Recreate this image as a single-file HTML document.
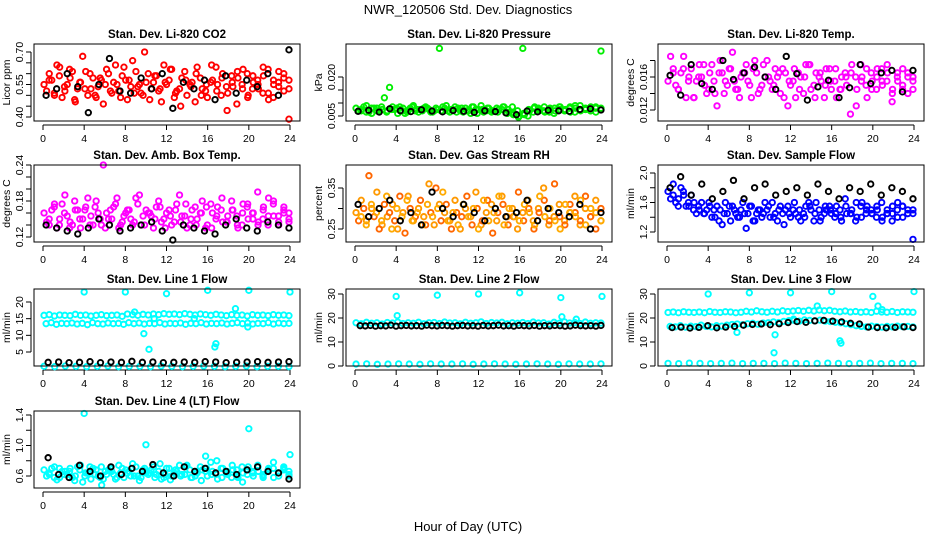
<!DOCTYPE html>
<html><head><meta charset="utf-8"><style>
html,body{margin:0;padding:0;background:#fff;}
svg text{font-family:"Liberation Sans",Arial,sans-serif;}
</style></head><body>
<svg id="chart" width="936" height="540" viewBox="0 0 936 540" xmlns="http://www.w3.org/2000/svg">
<text x="468" y="14" text-anchor="middle" font-size="13">NWR_120506  Std. Dev. Diagnostics</text>
<text x="468" y="531" text-anchor="middle" font-size="13">Hour of Day (UTC)</text>
</svg>
<script>
// ---- data ----
const xTicks = [0,4,8,12,16,20,24];
const p1Red1 = [0.55,0.60,0.50,0.63,0.52,0.58,0.47,0.56,0.61,0.53,0.49,0.57,0.62,0.51,0.55,0.59,0.48,0.66,0.54,0.50,0.60,0.56,0.52,0.64,0.57,0.49,0.53,0.61,0.55,0.47,0.58,0.52,0.56,0.63,0.50,0.54,0.59,0.46,0.55,0.60,0.53,0.57,0.51,0.62,0.49,0.56,0.58,0.53];
const p1Red2 = [0.52,0.57,0.64,0.49,0.55,0.61,0.53,0.68,0.50,0.58,0.54,0.46,0.60,0.56,0.52,0.63,0.57,0.51,0.55,0.70,0.48,0.59,0.53,0.56,0.62,0.51,0.45,0.57,0.54,0.60,0.50,0.55,0.64,0.52,0.58,0.43,0.56,0.61,0.53,0.49,0.59,0.55,0.63,0.51,0.57,0.54,0.60,0.39];
const p1Red3 = [0.57,0.51,0.59,0.54,0.62,0.48,0.56,0.53,0.60,0.50,0.58,0.55,0.52,0.64,0.49,0.57,0.54,0.61,0.51,0.56,0.53,0.59,0.47,0.55,0.62,0.52,0.58,0.50,0.56,0.63,0.53,0.49,0.57,0.55,0.60,0.51,0.54,0.58,0.62,0.50,0.56,0.53,0.59,0.48,0.55,0.61,0.52,0.57];
const p1Black = [0.50,0.53,0.60,0.54,0.42,0.55,0.67,0.52,0.51,0.58,0.53,0.60,0.44,0.56,0.53,0.57,0.48,0.59,0.51,0.57,0.54,0.60,0.50,0.71];
const p2Green1 = [0.008,0.007,0.009,0.006,0.008,0.0075,0.007,0.0085,0.006,0.008,0.007,0.009,0.0065,0.008,0.0075,0.007,0.031,0.008,0.0065,0.0085,0.007,0.008,0.006,0.0075,0.009,0.007,0.0065,0.008,0.0075,0.006,0.0085,0.007,0.031,0.005,0.0065,0.008,0.007,0.0075,0.006,0.0085,0.007,0.008,0.0065,0.009,0.0075,0.007,0.008,0.030];
const p2Green2 = [0.007,0.0085,0.0065,0.008,0.007,0.012,0.016,0.0075,0.0085,0.006,0.008,0.007,0.0075,0.0085,0.0065,0.008,0.007,0.009,0.0075,0.0065,0.008,0.007,0.0085,0.006,0.0075,0.008,0.007,0.0065,0.0085,0.0075,0.0055,0.0045,0.006,0.0075,0.008,0.007,0.0085,0.0065,0.008,0.0075,0.007,0.0085,0.009,0.0075,0.008,0.007,0.0085,0.0075];
const p2Green3 = [0.0075,0.0065,0.008,0.007,0.0085,0.0065,0.0075,0.008,0.007,0.0065,0.0085,0.0075,0.007,0.008,0.0065,0.0075,0.0085,0.007,0.0075,0.008,0.0065,0.007,0.0085,0.0075,0.0065,0.008,0.007,0.0075,0.0085,0.0065,0.006,0.005,0.0055,0.007,0.0085,0.0075,0.0065,0.008,0.007,0.0085,0.0075,0.0065,0.008,0.007,0.0075,0.0085,0.0065,0.008];
const p2Black = [0.0068,0.0072,0.0065,0.0078,0.007,0.0067,0.0074,0.0069,0.0066,0.0071,0.0068,0.0064,0.007,0.0067,0.0062,0.0055,0.0069,0.0066,0.0072,0.007,0.0068,0.0075,0.0078,0.0073];
const p3Mag1 = [0.0155,0.017,0.0145,0.0185,0.016,0.0135,0.0175,0.015,0.0165,0.014,0.018,0.0155,0.017,0.0145,0.016,0.0175,0.0135,0.0165,0.015,0.018,0.0145,0.016,0.017,0.0125,0.0155,0.0165,0.014,0.0175,0.015,0.016,0.0135,0.017,0.0155,0.0145,0.0165,0.0115,0.016,0.0175,0.015,0.0165,0.0145,0.017,0.0155,0.013,0.016,0.0145,0.0165,0.0155];
const p3Mag2 = [0.0185,0.015,0.0165,0.0135,0.017,0.0155,0.016,0.014,0.0175,0.0125,0.0165,0.015,0.019,0.0145,0.0165,0.0155,0.017,0.014,0.0175,0.016,0.015,0.0165,0.0135,0.0155,0.017,0.0145,0.016,0.0175,0.0135,0.0165,0.015,0.0155,0.017,0.0145,0.016,0.0165,0.0125,0.0155,0.017,0.0145,0.016,0.0155,0.0175,0.014,0.0165,0.015,0.016,0.0145];
const p3Mag3 = [0.0165,0.0145,0.017,0.0155,0.0135,0.016,0.0175,0.0145,0.0155,0.0165,0.014,0.017,0.0155,0.0135,0.0165,0.015,0.018,0.0145,0.016,0.0155,0.017,0.014,0.0165,0.015,0.0135,0.016,0.0175,0.0145,0.0165,0.0155,0.017,0.0145,0.0135,0.016,0.015,0.0175,0.0145,0.016,0.0135,0.0155,0.017,0.015,0.0165,0.0145,0.0155,0.017,0.014,0.016];
const p3Black = [0.0162,0.0138,0.0175,0.0152,0.0145,0.018,0.0157,0.0165,0.0172,0.016,0.0145,0.0185,0.0164,0.0132,0.0148,0.0156,0.0135,0.0147,0.0175,0.0152,0.0165,0.0168,0.0142,0.0168];
const p4Mag1 = [0.16,0.14,0.175,0.15,0.19,0.145,0.165,0.135,0.17,0.155,0.18,0.14,0.16,0.15,0.185,0.145,0.165,0.14,0.175,0.155,0.16,0.135,0.18,0.15,0.165,0.145,0.19,0.155,0.14,0.17,0.16,0.135,0.175,0.15,0.165,0.145,0.18,0.155,0.14,0.17,0.16,0.195,0.15,0.14,0.175,0.155,0.165,0.145];
const p4Mag2 = [0.145,0.165,0.135,0.175,0.155,0.14,0.165,0.15,0.185,0.14,0.16,0.24,0.15,0.17,0.135,0.155,0.165,0.145,0.19,0.14,0.16,0.15,0.17,0.135,0.155,0.165,0.145,0.175,0.15,0.14,0.16,0.17,0.135,0.155,0.185,0.145,0.165,0.14,0.16,0.175,0.15,0.14,0.165,0.155,0.18,0.145,0.16,0.15];
const p4Mag3 = [0.15,0.17,0.14,0.16,0.135,0.18,0.15,0.165,0.14,0.17,0.15,0.135,0.165,0.175,0.14,0.16,0.15,0.185,0.14,0.165,0.155,0.17,0.145,0.16,0.14,0.175,0.155,0.135,0.165,0.15,0.18,0.14,0.16,0.17,0.145,0.155,0.165,0.135,0.175,0.15,0.16,0.145,0.17,0.185,0.155,0.14,0.17,0.16];
const p4Black = [0.14,0.135,0.13,0.125,0.135,0.15,0.14,0.13,0.135,0.14,0.145,0.13,0.115,0.14,0.135,0.13,0.125,0.14,0.15,0.135,0.13,0.145,0.14,0.135];
const p5Or1 = [0.29,0.32,0.27,0.30,0.34,0.26,0.28,0.31,0.25,0.29,0.33,0.27,0.30,0.28,0.36,0.26,0.31,0.29,0.27,0.32,0.25,0.30,0.28,0.34,0.26,0.29,0.31,0.27,0.33,0.28,0.30,0.25,0.29,0.32,0.27,0.30,0.35,0.26,0.28,0.31,0.27,0.29,0.33,0.26,0.30,0.28,0.32,0.27];
const p5Or2 = [0.27,0.30,0.38,0.28,0.25,0.31,0.29,0.27,0.33,0.24,0.30,0.28,0.32,0.26,0.29,0.35,0.27,0.31,0.25,0.29,0.28,0.33,0.26,0.30,0.27,0.32,0.24,0.29,0.31,0.26,0.28,0.34,0.27,0.30,0.25,0.29,0.32,0.27,0.36,0.28,0.26,0.31,0.29,0.27,0.33,0.28,0.25,0.30];
const p5Or3 = [0.28,0.26,0.31,0.29,0.27,0.33,0.25,0.30,0.28,0.32,0.27,0.29,0.26,0.31,0.28,0.30,0.34,0.27,0.29,0.26,0.31,0.28,0.30,0.25,0.32,0.27,0.29,0.33,0.26,0.30,0.28,0.27,0.31,0.29,0.26,0.33,0.28,0.30,0.27,0.25,0.31,0.29,0.28,0.32,0.26,0.30,0.29,0.27];
const p5Black = [0.31,0.28,0.30,0.32,0.27,0.29,0.26,0.34,0.30,0.28,0.31,0.29,0.27,0.30,0.28,0.29,0.32,0.27,0.30,0.29,0.28,0.31,0.25,0.29];
const p6Blue1 = [1.75,1.85,1.65,1.70,1.55,1.60,1.50,1.45,1.55,1.40,1.50,1.60,1.35,1.45,1.50,1.25,1.55,1.45,1.40,1.50,1.60,1.35,1.45,1.55,1.50,1.40,1.45,1.60,1.35,1.50,1.45,1.55,1.40,1.50,1.65,1.45,1.35,1.55,1.45,1.50,1.40,1.60,1.45,1.35,1.50,1.55,1.45,1.50];
const p6Blue2 = [1.65,1.60,1.80,1.55,1.70,1.45,1.60,1.50,1.40,1.55,1.30,1.45,1.55,1.40,1.60,1.45,1.35,1.50,1.45,1.55,1.40,1.50,1.30,1.45,1.60,1.50,1.40,1.55,1.45,1.35,1.55,1.50,1.45,1.40,1.55,1.45,1.60,1.40,1.50,1.45,1.55,1.35,1.50,1.45,1.40,1.55,1.45,1.10];
const p6Blue3 = [1.70,1.55,1.75,1.60,1.50,1.55,1.45,1.60,1.50,1.35,1.45,1.55,1.50,1.40,1.45,1.55,1.35,1.50,1.60,1.40,1.45,1.55,1.50,1.40,1.45,1.35,1.55,1.50,1.60,1.40,1.50,1.45,1.55,1.35,1.45,1.50,1.40,1.60,1.55,1.45,1.50,1.40,1.45,1.55,1.60,1.40,1.50,1.45];
const p6Black = [1.80,1.95,1.70,1.85,1.65,1.75,1.90,1.65,1.80,1.85,1.70,1.75,1.80,1.70,1.85,1.75,1.65,1.80,1.75,1.85,1.70,1.80,1.75,1.65];
const p7CyanHi = [16,16.2,15.8,16.1,16,15.9,16.3,16,16.1,15.8,16,16.2,15.9,16,16.1,15.7,16.4,16.2,16,16.3,16.1,16.4,16.2,16.5,16.3,16.4,16.2,16.5,16.3,16.1,16.4,16.2,16.0,16.3,16.1,15.9,16.2,16.0,16.1,15.8,16.2,16.0,16.1,15.9,16.2,16.0,16.1,15.9];
const p7CyanLo = [13.5,13.8,13.3,13.6,13.5,13.7,13.4,13.6,13.2,13.8,13.5,13.4,13.7,13.5,13.6,13.3,13.8,13.5,13.7,13.4,13.6,13.5,13.8,13.4,13.6,13.5,13.7,13.3,13.6,13.5,13.8,13.4,13.6,13.5,13.7,13.4,13.6,13.8,13.5,13.7,13.4,13.6,13.5,13.8,13.4,13.7,13.5,13.6];
const p7CyanZero = [0.7,0.6,0.8,0.7,0.6,0.7,0.8,0.6,0.7,0.7,0.6,0.8,0.7,0.6,0.7,0.8,0.7,0.6,0.7,0.8,0.6,0.7,0.7,0.6];
const p7Black = [1.9,2.0,1.8,1.9,2.1,1.8,2.0,1.9,2.2,1.9,2.0,1.8,1.9,2.0,1.9,2.1,2.0,1.8,1.9,2.0,2.1,1.9,2.0,2.1];
const p7OutHours = [4,8,12,16,20,24,9.8,10.3,10.8,14.7,18.7,8.9,16.7,16.8,19.9];
const p7OutVals = [23,23,22.5,23.5,23.5,23,10.5,5.8,15,15,18,17,6.5,7.5,12.5];
const p8CyanHi = [18,17.6,18.2,17.8,18,17.5,18.1,17.9,18.3,17.7,18,17.8,18.2,17.6,18,18.1,17.7,18.3,17.9,18,17.6,18.2,17.8,18,18.4,17.7,18.1,17.9,18.2,17.6,18,17.8,18.1,17.7,18.3,17.9,18,17.5,18.2,17.8,18.4,17.9,18.1,17.7,18.3,17.8,18,17.9];
const p8CyanZero = [0.8,0.9,0.7,0.8,0.9,0.8,0.7,0.9,0.8,0.8,0.9,0.7,0.8,0.9,0.8,0.7,0.8,0.9,0.8,0.7,0.9,0.8,0.8,0.9];
const p8Black = [16.8,16.7,16.9,16.6,16.8,16.7,17.0,16.6,16.8,16.9,16.7,16.8,16.6,17.0,16.8,16.7,16.9,16.8,16.6,16.8,16.9,16.7,16.8,16.6,16.9,16.7,16.8,17.0,16.7,16.8,16.6,16.9,16.8,16.7,16.9,16.6,16.8,16.7,16.9,16.8,16.6,16.7,17.0,16.8,16.7,16.8,16.6,16.9];
const p8OutHours = [4,8,12,16,20,24,4.1,20.1,21.5];
const p8OutVals = [29,29.5,30,30.5,28.5,29,21,20.5,19.5];
const p9CyanHi = [22.3,22.5,22.2,22.6,22.4,22.3,22.5,22.2,22.7,22.4,22.3,22.6,22.5,22.2,22.4,22.8,22.5,23,22.6,22.4,22.8,22.5,23,22.7,22.9,23.1,22.8,23.2,22.9,23.3,23,23.2,22.8,22.6,22.9,22.5,22.7,22.4,22.6,22.3,22.8,22.5,22.4,22.7,22.3,22.6,22.5,22.4];
const p9CyanMid = [16.5,16.3,16.8,16.2,16.6,16.4,17.0,16.5,16.3,16.8,16.6,17.0,17.3,17.5,17.2,17.6,17.8,17.4,17.9,18.0,18.4,18.1,18.6,18.9,19.0,18.7,19.2,19.0,18.8,19.1,18.7,18.5,18.2,18.0,17.6,17.2,16.8,16.5,16.3,16.6,16.4,16.2,16.5,16.3,16.6,16.4,16.5,16.3];
const p9CyanZero = [1.1,1.0,1.2,1.1,1.0,1.1,1.2,1.0,1.1,1.1,1.0,1.2,1.1,1.0,1.1,1.2,1.1,1.0,1.1,1.2,1.0,1.1,1.1,1.0];
const p9Black = [16.0,16.2,15.8,16.1,16.8,15.9,16.2,16.5,17.0,17.3,17.5,17.2,17.6,18.1,18.5,18.2,18.8,19.0,18.7,18.4,17.8,17.5,16.2,16.0,15.9,16.1,16.3,16.0];
const p9OutHours = [4,8,12,16,20,24,6.8,10.4,10.5,12.3,14.6,16.9,16.8,20.5,20.9];
const p9OutVals = [30,30.5,30.5,31,29,31,14,5.5,13,19.5,25,9.5,10.5,25,23.5];
const p10Cyan1 = [0.68,0.62,0.72,0.58,0.66,0.70,0.60,0.74,0.64,0.56,0.68,0.72,0.62,0.66,0.58,0.70,0.64,0.76,0.60,0.68,0.62,0.72,0.66,0.58,0.70,0.64,0.74,0.62,0.68,0.60,0.72,0.66,0.78,0.62,0.70,0.64,0.58,0.68,0.72,0.62,0.66,0.74,0.60,0.68,0.70,0.64,0.72,0.66];
const p10Cyan2 = [0.60,0.70,0.55,0.66,0.62,0.58,0.72,0.52,0.64,0.70,0.60,0.56,0.68,0.62,0.74,0.58,0.66,0.60,0.54,0.70,0.64,0.58,0.76,0.62,0.55,0.68,0.60,0.72,0.58,0.66,0.54,0.70,0.62,0.80,0.58,0.66,0.74,0.60,0.52,0.68,0.64,0.72,0.58,0.66,0.78,0.60,0.70,0.62];
const p10Cyan3 = [0.64,0.58,0.70,0.62,0.66,0.54,0.68,0.60,0.72,0.62,0.58,0.66,0.70,0.56,0.64,0.68,0.60,0.72,0.58,0.64,0.68,0.62,0.56,0.70,0.60,0.66,0.62,0.74,0.58,0.64,0.68,0.60,0.66,0.56,0.70,0.62,0.68,0.58,0.64,0.72,0.60,0.66,0.62,0.70,0.58,0.64,0.68,0.60];
const p10Black = [0.84,0.62,0.58,0.74,0.66,0.60,0.72,0.62,0.70,0.66,0.75,0.64,0.60,0.72,0.66,0.70,0.64,0.66,0.62,0.68,0.72,0.66,0.64,0.56];
const p10OutHours = [4,10,20,24,5.7,15.8];
const p10OutVals = [1.42,1.01,1.22,0.88,0.48,0.86];

// ---- layout ----
const svg = document.getElementById('chart');
const NS = 'http://www.w3.org/2000/svg';
const colLeft = [34, 346, 658];
const rowTop = [44, 165, 289, 411];
const boxW = 266, boxH = 77;

function mk(tag, attrs, parent){
  const e = document.createElementNS(NS, tag);
  for (const k in attrs) e.setAttribute(k, attrs[k]);
  (parent || svg).appendChild(e);
  return e;
}
function spread(n, start){ const h=[]; for(let i=0;i<n;i++) h.push(start + i*(23.9-start)/(n-1)); return h; }

const panels = [
 {name:'co2', title:'Stan. Dev. Li-820 CO2', ylab:'Licor ppm', c:0,r:0, ref:[0.40,117,0.70,52], ticks:[0.40,0.45,0.50,0.55,0.60,0.65,0.70], labels:['0.40','','','0.55','','','0.70'],
  series:[[p1Red1,'#ff0000',null,0.1],[p1Red2,'#ff0000',null,0.35],[p1Red3,'#ff0000',null,0.6],[p1Black,'#000000',null,0.3]]},
 {name:'pressure', title:'Stan. Dev. Li-820 Pressure', ylab:'kPa', c:1,r:0, ref:[0.005,116,0.020,77], ticks:[0.005,0.010,0.015,0.020], labels:['0.005','','','0.020'],
  series:[[p2Green1,'#00ee00',null,0.1],[p2Green2,'#00ee00',null,0.35],[p2Green3,'#00ee00',null,0.6],[p2Black,'#000000',null,0.3]]},
 {name:'temp', title:'Stan. Dev. Li-820 Temp.', ylab:'degrees C', c:2,r:0, ref:[0.012,110,0.016,77], ticks:[0.012,0.014,0.016,0.018], labels:['0.012','','0.016',''],
  series:[[p3Mag1,'#ff00ff',null,0.1],[p3Mag2,'#ff00ff',null,0.35],[p3Mag3,'#ff00ff',null,0.6],[p3Black,'#000000',null,0.3]]},
 {name:'box-temp', title:'Stan. Dev. Amb. Box Temp.', ylab:'degrees C', c:0,r:1, ref:[0.12,237,0.24,165], ticks:[0.12,0.14,0.16,0.18,0.20,0.22,0.24], labels:['0.12','','','0.18','','','0.24'],
  series:[[p4Mag1,'#ff00ff',null,0.1],[p4Mag2,'#ff00ff',null,0.35],[p4Mag3,'#ff00ff',null,0.6],[p4Black,'#000000',null,0.3]]},
 {name:'rh', title:'Stan. Dev. Gas Stream RH', ylab:'percent', c:1,r:1, ref:[0.25,229,0.35,188], ticks:[0.25,0.30,0.35], labels:['0.25','','0.35'],
  series:[[p5Or1,'#ff9900',null,0.1],[p5Or2,'#ff6600',null,0.35],[p5Or3,'#ffaa00',null,0.6],[p5Black,'#000000',null,0.3]]},
 {name:'sample-flow', title:'Stan. Dev. Sample Flow', ylab:'ml/min', c:2,r:1, ref:[1.2,232,2.0,173], ticks:[1.2,1.4,1.6,1.8,2.0], labels:['1.2','','1.6','','2.0'],
  series:[[p6Blue1,'#0000ff',null,0.1],[p6Blue2,'#0000ff',null,0.35],[p6Blue3,'#0000ff',null,0.6],[p6Black,'#000000',null,0.3]]},
 {name:'line1-flow', title:'Stan. Dev. Line 1 Flow', ylab:'ml/min', c:0,r:2, ref:[5,352,20,302], ticks:[5,10,15,20], labels:['5','10','15','20'],
  series:[[p7CyanHi,'#00ffff',null,0.1],[p7CyanLo,'#00ffff',null,0.3],[p7CyanZero,'#00ffff',null,0.1],[p7OutVals,'#00ffff',p7OutHours,0],[p7Black,'#000000',null,0.5]]},
 {name:'line2-flow', title:'Stan. Dev. Line 2 Flow', ylab:'ml/min', c:1,r:2, ref:[0,366,30,294], ticks:[0,10,20,30], labels:['0','10','20','30'],
  series:[[p8CyanHi,'#00ffff',null,0.1],[p8CyanZero,'#00ffff',null,0.1],[p8OutVals,'#00ffff',p8OutHours,0],[p8Black,'#000000',null,0.5]]},
 {name:'line3-flow', title:'Stan. Dev. Line 3 Flow', ylab:'ml/min', c:2,r:2, ref:[0,366,30,294], ticks:[0,10,20,30], labels:['0','10','20','30'],
  series:[[p9CyanHi,'#00ffff',null,0.1],[p9CyanMid,'#00ffff',null,0.3],[p9CyanZero,'#00ffff',null,0.1],[p9OutVals,'#00ffff',p9OutHours,0],[p9Black,'#000000',null,0.5]]},
 {name:'line4-flow', title:'Stan. Dev. Line 4 (LT) Flow', ylab:'ml/min', c:0,r:3, ref:[0.6,476,1.4,415], ticks:[0.6,0.8,1.0,1.2,1.4], labels:['0.6','','1.0','','1.4'],
  series:[[p10Cyan1,'#00ffff',null,0.1],[p10Cyan2,'#00ffff',null,0.35],[p10Cyan3,'#00ffff',null,0.6],[p10OutVals,'#00ffff',p10OutHours,0],[p10Black,'#000000',null,0.5]]}
];

panels.forEach(p => {
  const L = colLeft[p.c], T = rowTop[p.r], B = T + boxH;
  const g = mk('g', {});
  
  
  const xs = h => L + 9 + h * (247 / 24);
  const [v1, y1, v2, y2] = p.ref;
  const ys = v => y1 + (v - v1) * (y2 - y1) / (v2 - v1);
  const t = mk('text', {x: L + boxW/2, y: T - 6, 'text-anchor':'middle', 'font-size':'11.5', 'font-weight':'bold'}, g);
  t.textContent = p.title;
  
  
  const yl = mk('text', {x: 0, y: 0, 'text-anchor':'middle', 'font-size':'10.5', transform:`translate(${L-24},${T+boxH/2}) rotate(-90)`}, g);
  yl.textContent = p.ylab;
  
  
  mk('line', {x1: xs(0), x2: xs(24), y1: B+4, y2: B+4, stroke:'#000', 'stroke-width':1}, g);
  xTicks.forEach(h => {
    mk('line', {x1: xs(h), x2: xs(h), y1: B+4, y2: B+9, stroke:'#000', 'stroke-width':1}, g);
    const tl = mk('text', {x: xs(h), y: B+21, 'text-anchor':'middle', 'font-size':'10.5'}, g);
    tl.textContent = h;
    
    
  });
  mk('line', {x1: L-3, x2: L-3, y1: ys(p.ticks[0]), y2: ys(p.ticks[p.ticks.length-1]), stroke:'#000', 'stroke-width':1}, g);
  p.ticks.forEach((v, i) => {
    mk('line', {x1: L-3, x2: L-8, y1: ys(v), y2: ys(v), stroke:'#000', 'stroke-width':1}, g);
    if (p.labels[i]) {
      const tl = mk('text', {x: 0, y: 0, 'text-anchor':'middle', 'font-size':'10.5', transform:`translate(${L-11},${ys(v)}) rotate(-90)`}, g);
      tl.textContent = p.labels[i];
      
      
    }
  });
  p.series.forEach(s => {
    const vals = s[0], col = s[1], hrs = s[2] || spread(vals.length, s[3]);
    vals.forEach((v, i) => {
      const pt = mk('circle', {cx: xs(hrs[i]), cy: ys(v), r: 2.7, fill:'none', stroke: col, 'stroke-width': 1.9}, g);
      
      
    });
  });
  const box = mk('rect', {x: L, y: T, width: boxW, height: boxH, fill:'none', stroke:'#000', 'stroke-width':1}, g);
  
  
});
</script>
</body></html>
